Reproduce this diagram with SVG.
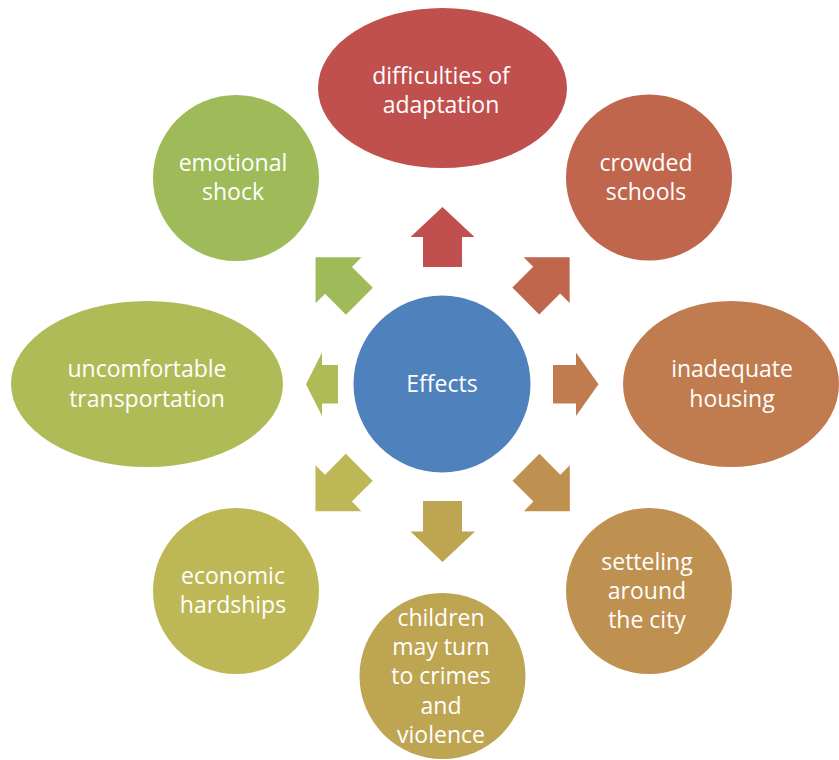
<svg xmlns="http://www.w3.org/2000/svg" width="839" height="760" viewBox="0 0 839 760">
<style>
text{font-family:"Open Sans","Liberation Sans",sans-serif;font-size:23px;fill:#fff;text-anchor:middle}
</style>
<defs>
<path id="diag" d="M-19,0 L-19,-29.5 L-32.5,-29.5 L0,-62 L32.5,-29.5 L19,-29.5 L19,0 Z"/>
</defs>
<rect width="839" height="760" fill="#fff"/>
<g id="connectors">
<path fill="#C0504D" d="M423,267 L423,237 L410.5,237 L442.5,207 L474.5,237 L462,237 L462,267 Z"/>
<use href="#diag" fill="#C0664D" transform="translate(525.8,301) rotate(45)"/>
<path fill="#C07C4F" d="M553,365 L576,365 L576,352.5 L598.5,384.3 L576,416 L576,403.5 L553,403.5 Z"/>
<use href="#diag" fill="#BF9150" transform="translate(526,467.3) rotate(135)"/>
<path fill="#BEA552" d="M423,501 L462,501 L462,531.5 L475,531.5 L442.5,562 L410.5,531.5 L423,531.5 Z"/>
<use href="#diag" fill="#BDB855" transform="translate(359.3,467.3) rotate(-135)"/>
<path fill="#AFBB57" d="M338,365 L322,365 L322,352.5 L306,384.3 L322,416 L322,403.5 L338,403.5 Z"/>
<use href="#diag" fill="#9FBB59" transform="translate(359.4,301.2) rotate(-45)"/>
</g>
<g id="effects"><circle cx="442" cy="384" r="88.5" fill="#4F81BD"/><text x="442" y="392">Effects</text></g>
<g id="difficulties"><ellipse cx="442.5" cy="88" rx="124.5" ry="80" fill="#C0504D"/><text x="441" y="84">difficulties of</text><text x="441" y="113">adaptation</text></g>
<g id="crowded"><circle cx="649" cy="177.5" r="83" fill="#C0664D"/><text x="646" y="171">crowded</text><text x="646" y="200">schools</text></g>
<g id="housing"><ellipse cx="731" cy="384" rx="108" ry="83" fill="#C07C4F"/><text x="732" y="377">inadequate</text><text x="732" y="407">housing</text></g>
<g id="setteling"><circle cx="649" cy="591" r="83" fill="#BF9150"/><text x="647" y="570">setteling</text><text x="647" y="599">around</text><text x="647" y="628">the city</text></g>
<g id="children"><circle cx="442.5" cy="676" r="83" fill="#BEA552"/><text x="441" y="626">children</text><text x="441" y="655">may turn</text><text x="441" y="684">to crimes</text><text x="441" y="714">and</text><text x="441" y="743">violence</text></g>
<g id="economic"><circle cx="236" cy="591" r="83" fill="#BDB855"/><text x="233" y="584">economic</text><text x="233" y="613">hardships</text></g>
<g id="transportation"><ellipse cx="147" cy="384" rx="136" ry="83" fill="#AFBB57"/><text x="147" y="377">uncomfortable</text><text x="147" y="407">transportation</text></g>
<g id="emotional"><circle cx="236" cy="178" r="83" fill="#9FBB59"/><text x="233" y="171">emotional</text><text x="233" y="200">shock</text></g>
</svg>
